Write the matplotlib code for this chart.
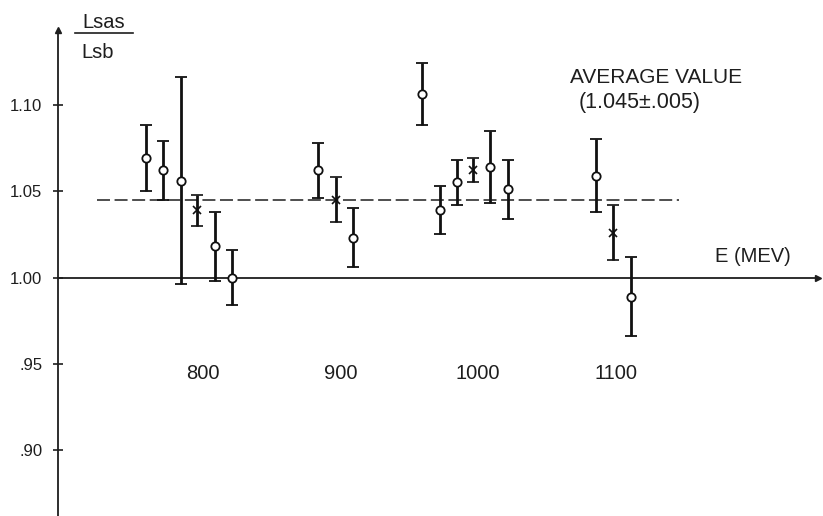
import matplotlib
matplotlib.use("Agg")
import matplotlib.pyplot as plt
import numpy as np

plt.rcParams['font.family'] = ['Liberation Sans', 'DejaVu Sans']

# Data (energy in MeV, ratio Lsas/Lsb, half error)
energy = [759, 771, 784, 796, 809, 821, 884, 897, 909, 959, 972, 985, 996, 1009, 1022, 1086, 1098, 1111]
ratio = [1.069, 1.062, 1.056, 1.039, 1.018, 1.000, 1.062, 1.045, 1.023, 1.106,
         1.039, 1.055, 1.062, 1.064, 1.051, 1.059, 1.026, 0.989]
error = [0.019, 0.017, 0.060, 0.009, 0.020, 0.016, 0.016, 0.013, 0.017, 0.018,
         0.014, 0.013, 0.007, 0.021, 0.017, 0.021, 0.016, 0.023]
marker_kind = ['o', 'o', 'o', 'x', 'o', 'o', 'o', 'x', 'o', 'o',
               'o', 'o', 'x', 'o', 'o', 'o', 'x', 'o']

average_value = 1.045
average_range = [723, 1146]
x_tick_values = [800, 900, 1000, 1100]
x_tick_labels = ['800', '900', '1000', '1100']
y_tick_values = [0.90, 0.95, 1.00, 1.05, 1.10]
y_tick_labels = ['.90', '.95', '1.00', '1.05', '1.10']

ink = '#1e1e1e'

fig = plt.figure(figsize=(8.23, 5.16), dpi=100)
ax = fig.add_axes([0, 0, 1, 1])
ax.set_xlim(652.8, 1250.5)
ax.set_ylim(0.862, 1.1606)
ax.patch.set_alpha(0)

# Axes lines
ax.spines['top'].set_visible(False)
ax.spines['right'].set_visible(False)
ax.spines['left'].set_position(('data', 695))
ax.spines['bottom'].set_position(('data', 1.0))
ax.spines['left'].set_bounds(0.862, 1.143)
ax.spines['bottom'].set_bounds(695, 1247)
for s in ('left', 'bottom'):
    ax.spines[s].set_linewidth(1.3)
    ax.spines[s].set_color(ink)

# arrows
ax.plot([695], [1.143], marker='^', color=ink, markersize=4, clip_on=False)
ax.plot([1247], [1.0], marker='>', color=ink, markersize=4, clip_on=False)

ax.set_xticks([])
ax.set_yticks(y_tick_values)
ax.set_yticklabels(y_tick_labels)
ax.tick_params(axis='y', direction='inout', length=7, width=1.2, pad=8,
               labelsize=12, colors=ink)

# average dashed line
ax.plot(average_range, [average_value, average_value], linestyle=(0, (8.5, 3)),
        color=ink, linewidth=1.1)

# data points
for e, r, er, mk in zip(energy, ratio, error, marker_kind):
    if mk == 'o':
        ax.errorbar([e], [r], yerr=[er], fmt='o', mfc='white', mec='#111111',
                    mew=1.3, ms=6, ecolor='#111111', elinewidth=2.0, capsize=4,
                    capthick=2.0, color='#111111', zorder=3)
    else:
        ax.errorbar([e], [r], yerr=[er], fmt='x', mec='#111111', mew=1.2, ms=6,
                    ecolor='#111111', elinewidth=2.0, capsize=4, capthick=2.0,
                    color='#111111', zorder=3)

# x tick labels placed at the .95 row
for v, lab in zip(x_tick_values, x_tick_labels):
    ax.text(v, 0.9442, lab, ha='center', va='center', fontsize=14.5, color=ink)

# y label as a fraction
ax.text(728.3, 1.1473, 'Lsas', ha='center', va='center', fontsize=14.5, color=ink)
ax.plot([707.3, 749.4], [1.1415, 1.1415], color=ink, linewidth=1.2, clip_on=False)
ax.text(723.6, 1.1300, 'Lsb', ha='center', va='center', fontsize=14.5, color=ink)

# annotations
ax.text(1129.2, 1.1160, 'AVERAGE VALUE', ha='center', va='center', fontsize=15,
        color=ink)
ax.text(1117.6, 1.1010, '(1.045±.005)', ha='center', va='center', fontsize=15.5,
        color=ink)
ax.text(1199.5, 1.0119, 'E (MEV)', ha='center', va='center', fontsize=14.5,
        color=ink)

fig.savefig('out.png', dpi=100)
